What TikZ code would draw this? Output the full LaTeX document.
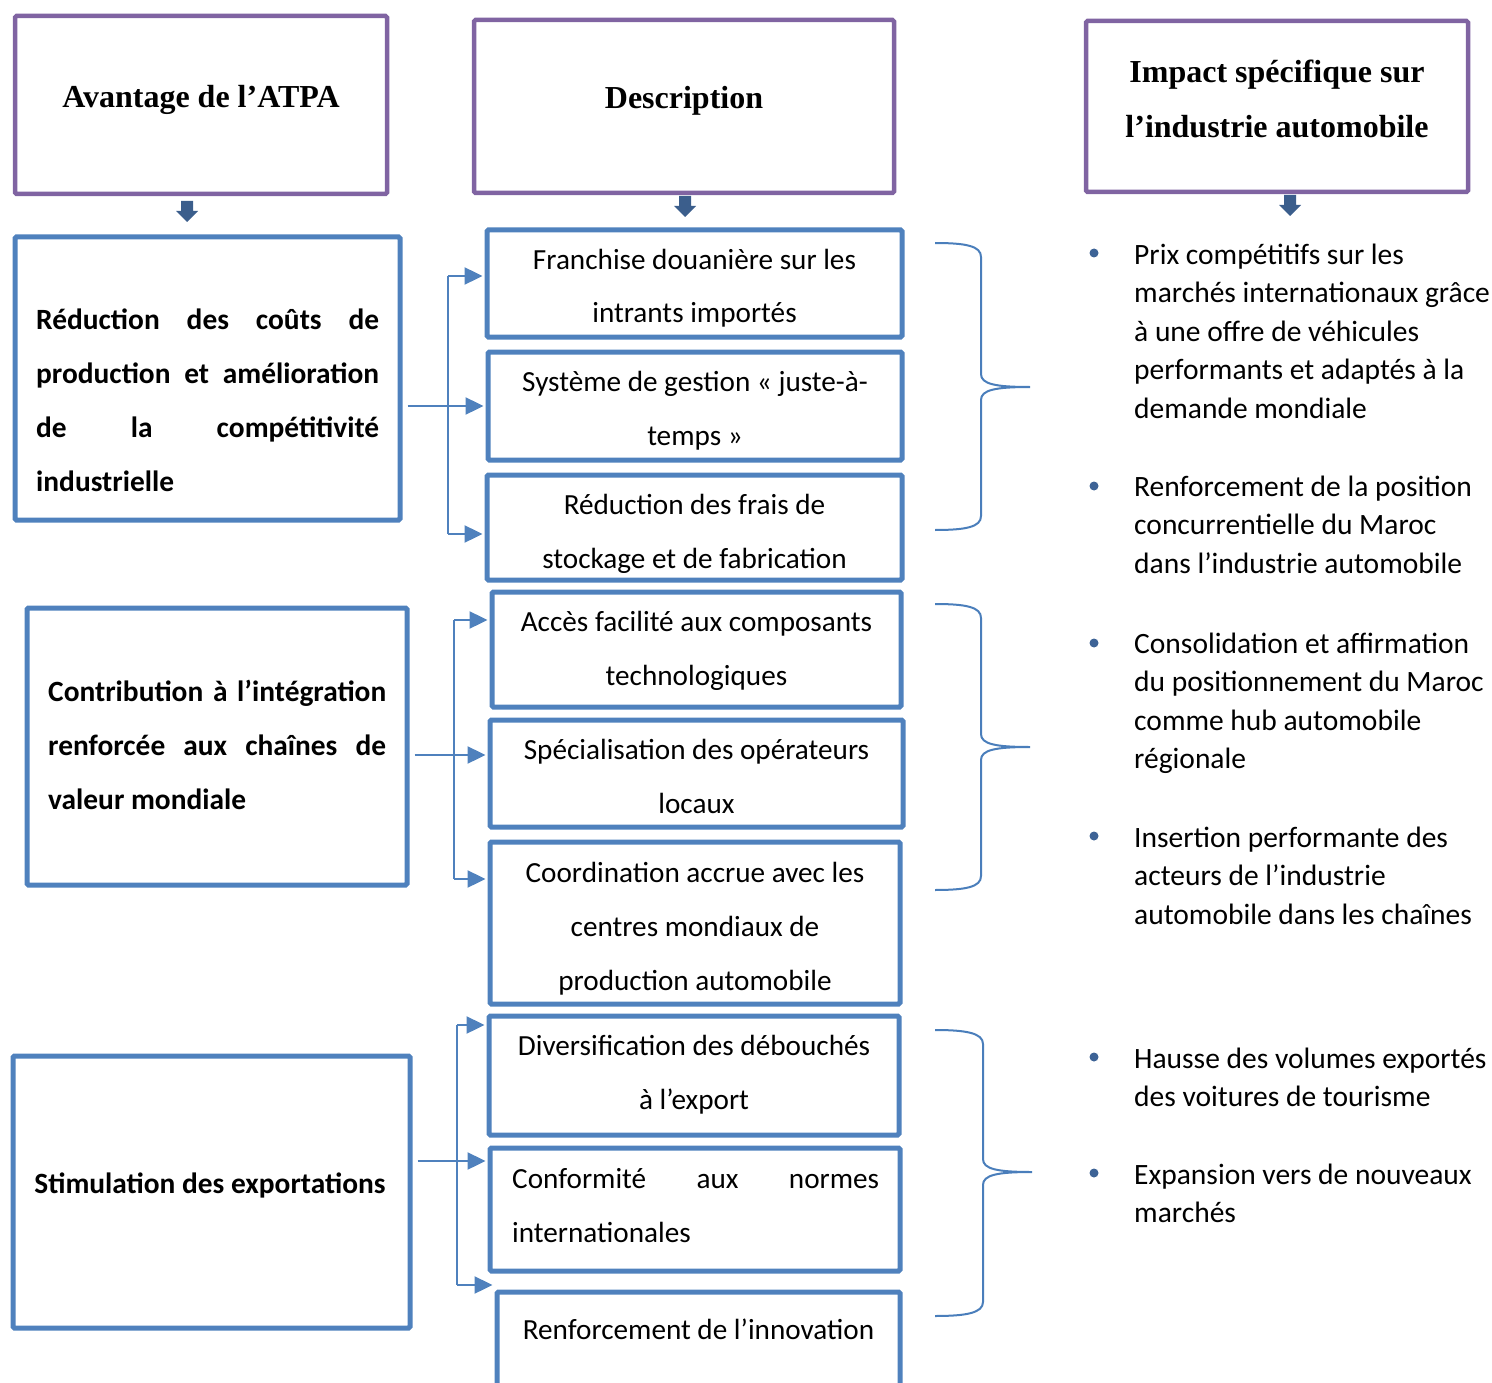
\documentclass[tikz,border=0pt]{standalone}
\usepackage{fontspec}
\setmainfont{Carlito}
\newfontfamily\timesf{Liberation Serif}
\usetikzlibrary{arrows.meta,calc,fit}
\definecolor{hdr}{HTML}{8064A2}
\definecolor{bx}{HTML}{4F81BD}
\definecolor{darr}{HTML}{3B5E8C}
\definecolor{brc}{HTML}{4A7EBB}
\definecolor{dotc}{HTML}{3D6396}
\tikzset{
 hbox/.style={draw=hdr, line width=4.5pt, rounded corners=1.5pt, inner sep=0pt},
 bbox/.style={draw=bx, line width=5pt, rounded corners=1.5pt, inner sep=0pt},
 htext/.style={font=\timesf\bfseries\fontsize{32}{55}\selectfont, align=center, inner sep=0pt, anchor=base},
 mtext/.style={font=\fontsize{29.2}{54}\selectfont, align=center, inner sep=0pt, anchor=base},
 ltext/.style={font=\bfseries\fontsize{29.4}{54}\selectfont, align=left, inner sep=0pt, anchor=base west},
 btext/.style={font=\fontsize{29.5}{38.5}\selectfont, align=left, inner sep=0pt, anchor=base west},
 conn/.style={draw=bx, line width=2.4pt, -{Triangle[length=18pt,width=17pt]}, shorten >=2pt},
 trunk/.style={draw=bx, line width=2.4pt},
 brace/.style={draw=brc, line width=2pt},
}
\newcommand\blockarrow[2]{%
 \fill[darr] ({#1-6},#2) -- ++(12,0) -- ++(0,10) -- ++(5,0) -- ++(-11,11) -- ++(-11,-11) -- ++(5,0) -- cycle;}
\newcommand\mybrace[4]{%
 \draw[brace] (935,#1) .. controls (966,#1) and (#4,{#1+3}) .. (#4,{#1+14}) -- (#4,{#2-13})
  .. controls (#4,{#2-3}) and ({#4+14},#2) .. ({#4+49},#2)
  .. controls ({#4+14},#2) and (#4,{#2+3}) .. (#4,{#2+13}) -- (#4,{#3-14})
  .. controls (#4,{#3-3}) and (966,#3) .. (935,#3);}
\begin{document}
\begin{tikzpicture}[x=1pt,y=-1pt]
\useasboundingbox (0,0) rectangle (1492,1383);
\clip (0,0) rectangle (1492,1383);
% headers
\node[hbox, fit={(15,16) (387,194)}] (H1) {};
\node[hbox, fit={(474,20) (894,193)}] (H2) {};
\node[hbox, fit={(1086,21) (1468,192)}] (H3) {};
\node[htext] (tH1) at (201,108) {Avantage de l’ATPA};
\node[htext] (tH2) at (684,109) {Description};
\node[htext] (tH3) at (1277,138) {Impact spécifique sur\\l’industrie automobile};
\blockarrow{187}{201}
\blockarrow{685}{196}
\blockarrow{1290}{195}
% left boxes
\node[bbox, fit={(15,237) (400,520)}] (L1) {};
\node[bbox, fit={(27,608) (407,885)}] (L2) {};
\node[bbox, fit={(13,1056) (410,1328)}] (L3) {};
\node[ltext] (tL1) at (36,491) {\makebox[343pt][s]{Réduction des coûts de}\\\makebox[343pt][s]{production et amélioration}\\\makebox[343pt][s]{de la compétitivité}\\industrielle};
\node[ltext] (tL2) at (48,809) {\makebox[338pt][s]{Contribution à l’intégration}\\\makebox[338pt][s]{renforcée aux chaînes de}\\valeur mondiale};
\node[ltext, anchor=base] (tL3) at (210,1193) {Stimulation des exportations};
% middle boxes
\node[bbox, fit={(487,230) (902,337)}] (M1) {};
\node[bbox, fit={(488,352) (902,460)}] (M2) {};
\node[bbox, fit={(487,475) (902,580)}] (M3) {};
\node[bbox, fit={(492,592) (901,707)}] (M4) {};
\node[bbox, fit={(490,720) (903,827)}] (M5) {};
\node[bbox, fit={(490,842) (900,1004)}] (M6) {};
\node[bbox, fit={(489,1016) (899,1135)}] (M7) {};
\node[bbox, fit={(490,1148) (900,1271)}] (M8) {};
\node[bbox, fit={(497,1292) (900,1420)}] (M9) {};
\node[mtext] (tM1) at (694.5,323) {Franchise douanière sur les\\intrants importés};
\node[mtext] (tM2) at (695,445) {Système de gestion « juste-à-\\temps »};
\node[mtext] (tM3) at (694.5,568) {Réduction des frais de\\stockage et de fabrication};
\node[mtext] (tM4) at (696.5,685) {Accès facilité aux composants\\technologiques};
\node[mtext] (tM5) at (696.5,813) {Spécialisation des opérateurs\\locaux};
\node[mtext] (tM6) at (695,990) {Coordination accrue avec les\\centres mondiaux de\\production automobile};
\node[mtext] (tM7) at (694,1109) {Diversification des débouchés\\à l’export};
\node[mtext, align=left, anchor=base west] (tM8) at (512,1242) {\makebox[367pt][s]{Conformité aux normes}\\internationales};
\node[mtext] (tM9) at (698.5,1339) {Renforcement de l’innovation};
% connectors group 1
\coordinate (g1a) at (448,276);
\coordinate (g1b) at (448,534);
\draw[trunk] (g1a) -- (g1b);
\draw[conn] (g1a) -- (M1.west |- g1a);
\draw[conn] (g1b) -- (M3.west |- g1b);
\draw[conn, shorten <=5pt] (L1.east |- M2.west) -- (M2.west);
% group 2
\coordinate (g2a) at (454,620);
\coordinate (g2b) at (454,879);
\draw[trunk] (g2a) -- (g2b);
\draw[conn] (g2a) -- (M4.west |- g2a);
\draw[conn] (g2b) -- (M6.west |- g2b);
\draw[conn, shorten <=5pt] (L2.east |- 0,755) -- (M5.west |- 0,755);
% group 3
\coordinate (g3a) at (457,1025);
\coordinate (g3b) at (457,1285);
\draw[trunk] (g3a) -- (g3b);
\draw[conn] (g3a) -- (M7.west |- g3a);
\draw[conn] (g3b) -- (M9.west |- g3b);
\draw[conn, shorten <=5pt] (L3.east |- 0,1161) -- (M8.west |- 0,1161);
% braces
\mybrace{243}{387}{530}{981}
\mybrace{604}{747}{890}{981}
\mybrace{1030}{1172}{1316}{983}
% bullets
\foreach \yy in {253,486,643,836,1057,1173} \fill[dotc] (1094,\yy) circle (4.5pt);
\node[btext] (b1) at (1134,418) {Prix compétitifs sur les\\marchés internationaux grâce\\à une offre de véhicules\\performants et adaptés à la\\demande mondiale};
\node[btext] (b2) at (1134,573) {Renforcement de la position\\concurrentielle du Maroc\\dans l’industrie automobile};
\node[btext] (b3) at (1134,768.5) {Consolidation et affirmation\\du positionnement du Maroc\\comme hub automobile\\régionale};
\node[btext] (b4) at (1134,924) {Insertion performante des\\acteurs de l’industrie\\automobile dans les chaînes};
\node[btext] (b5) at (1134,1106.5) {Hausse des volumes exportés\\des voitures de tourisme};
\node[btext] (b6) at (1134,1222.5) {Expansion vers de nouveaux\\marchés};
\end{tikzpicture}
\end{document}
